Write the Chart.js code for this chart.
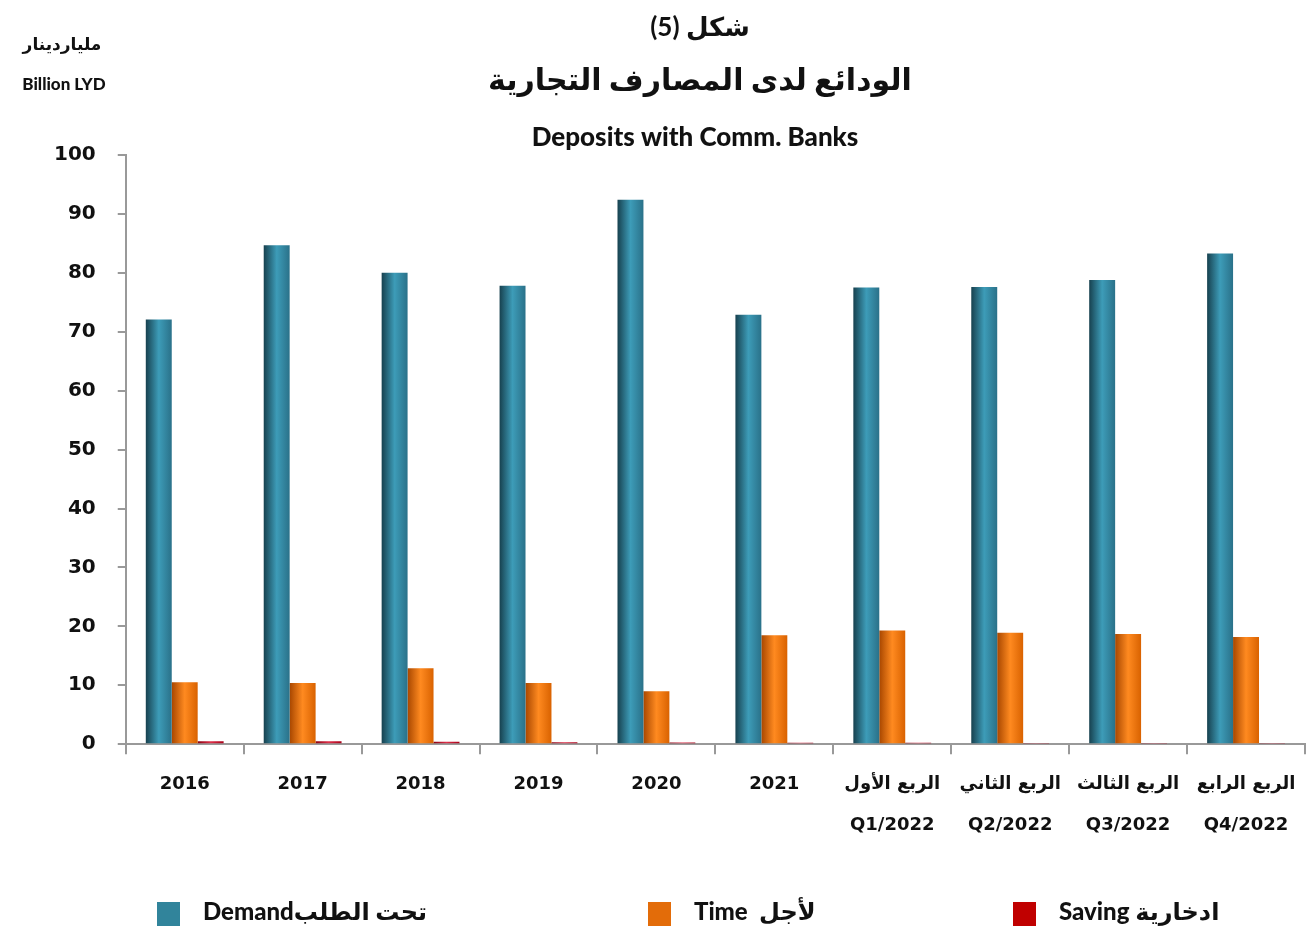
<!DOCTYPE html>
<html>
<head>
<meta charset="utf-8">
<script src="https://cdn.jsdelivr.net/npm/chart.js@4"></script>
<style>
  html, body { margin: 0; padding: 0; background: #fff; }
  #wrap { width: 1311px; height: 931px; }
</style>
</head>
<body>
<div id="wrap"><canvas id="myChart"></canvas></div>
<script>
// data
const categories = ['2016', '2017', '2018', '2019', '2020', '2021',
    ['الربع الأول', 'Q1/2022'], ['الربع الثاني', 'Q2/2022'],
    ['الربع الثالث', 'Q3/2022'], ['الربع الرابع', 'Q4/2022']];
const demand = [72.1, 84.7, 80.0, 77.8, 92.4, 72.9, 77.5, 77.6, 78.8, 83.3];
const time   = [10.5, 10.4, 12.9, 10.4, 9.0, 18.5, 19.3, 18.9, 18.7, 18.2];
const saving = [0.5, 0.5, 0.4, 0.35, 0.3, 0.25, 0.25, 0.2, 0.2, 0.2];
const yTicks = [0, 10, 20, 30, 40, 50, 60, 70, 80, 90, 100];

const seriesNames = ['Demandتحت الطلب', 'Time  لأجل', 'Saving ادخارية'];
const swatch = ['#31849B', '#E36C09', '#C00000'];
// dark edge / highlight / right edge for the rounded look
const shades = [
    ['#17414f', '#3d9cb8', '#2a7189'],
    ['#a84700', '#ff8a20', '#d96200'],
    ['#8a0010', '#e0304a', '#a80018']
];

const CAT_PCT = 0.66;
const FONT = "'DejaVu Sans', sans-serif";
const TITLE_FONT = "Lato, 'DejaVu Sans', sans-serif";

// horizontal gradient for every bar, placed where the category scale puts it
function barFill(ds) {
    return function(ctx) {
        const chart = ctx.chart;
        const xs = chart.scales.x;
        if (!chart.chartArea || !xs || ctx.dataIndex === undefined) return swatch[ds];
        const cw = xs.width / categories.length;
        const bw = cw * CAT_PCT / 3;
        const left = xs.getPixelForValue(ctx.dataIndex) - cw * CAT_PCT / 2 + ds * bw;
        const g = chart.ctx.createLinearGradient(left, 0, left + bw, 0);
        g.addColorStop(0, shades[ds][0]);
        g.addColorStop(0.5, shades[ds][1]);
        g.addColorStop(1, shades[ds][2]);
        return g;
    };
}

// titles, unit label and legend
const textPlugin = {
    id: 'textPlugin',
    afterDraw(chart) {
        const c = chart.ctx;
        c.save();
        c.fillStyle = '#111';
        c.textBaseline = 'middle';
        c.textAlign = 'center';
        c.direction = 'ltr';
        c.font = 'bold 26px ' + TITLE_FONT;
        c.fillText('شكل (5)', 700, 28);
        c.font = 'bold 30px ' + TITLE_FONT;
        c.fillText('الودائع لدى المصارف التجارية', 700, 80);
        c.font = '900 26px ' + TITLE_FONT;
        c.fillText('Deposits with Comm. Banks', 695, 138);
        c.font = '900 17px ' + TITLE_FONT;
        c.fillText('ملياردينار', 62, 45);
        c.fillText('Billion LYD', 64, 85);

        // legend
        const xs = [157, 648, 1013];
        c.textAlign = 'left';
        c.font = '900 24px ' + TITLE_FONT;
        chart.data.datasets.forEach((d, i) => {
            c.fillStyle = swatch[i];
            c.fillRect(xs[i], 902, 23, 24);
            c.fillStyle = '#111';
            c.fillText(d.label, xs[i] + 46, 912);
        });
        c.restore();
    }
};

let myChart = document.getElementById('myChart').getContext('2d');

let depositsChart = new Chart(myChart, {
    type: 'bar',
    data: {
        labels: categories,
        datasets: [
            { label: seriesNames[0], data: demand, backgroundColor: barFill(0) },
            { label: seriesNames[1], data: time, backgroundColor: barFill(1) },
            { label: seriesNames[2], data: saving, backgroundColor: barFill(2) }
        ]
    },
    options: {
        responsive: true,
        maintainAspectRatio: false,
        animation: false,
        datasets: {
            bar: { categoryPercentage: CAT_PCT, barPercentage: 1, borderWidth: 0 }
        },
        layout: {
            padding: { top: 155, left: 32, right: 6, bottom: 76 }
        },
        plugins: {
            legend: { display: false },
            title: { display: false },
            tooltip: { enabled: false }
        },
        scales: {
            x: {
                grid: {
                    drawOnChartArea: false,
                    color: '#999',
                    tickLength: 10,
                    lineWidth: 2
                },
                border: { color: '#999', width: 2 },
                ticks: {
                    color: '#111',
                    padding: 9,
                    maxRotation: 0,
                    autoSkip: false,
                    font: { family: FONT, size: 18, weight: 'bold', lineHeight: 2.3 }
                }
            },
            y: {
                min: 0,
                max: 100,
                afterBuildTicks(axis) {
                    axis.ticks = yTicks.map(v => ({ value: v }));
                },
                grid: {
                    drawOnChartArea: false,
                    color: '#999',
                    tickLength: 8,
                    lineWidth: 2
                },
                border: { color: '#999', width: 2 },
                ticks: {
                    color: '#111',
                    padding: 22,
                    font: { family: FONT, size: 20, weight: 'bold' }
                }
            }
        }
    },
    plugins: [textPlugin]
});
</script>
</body>
</html>
